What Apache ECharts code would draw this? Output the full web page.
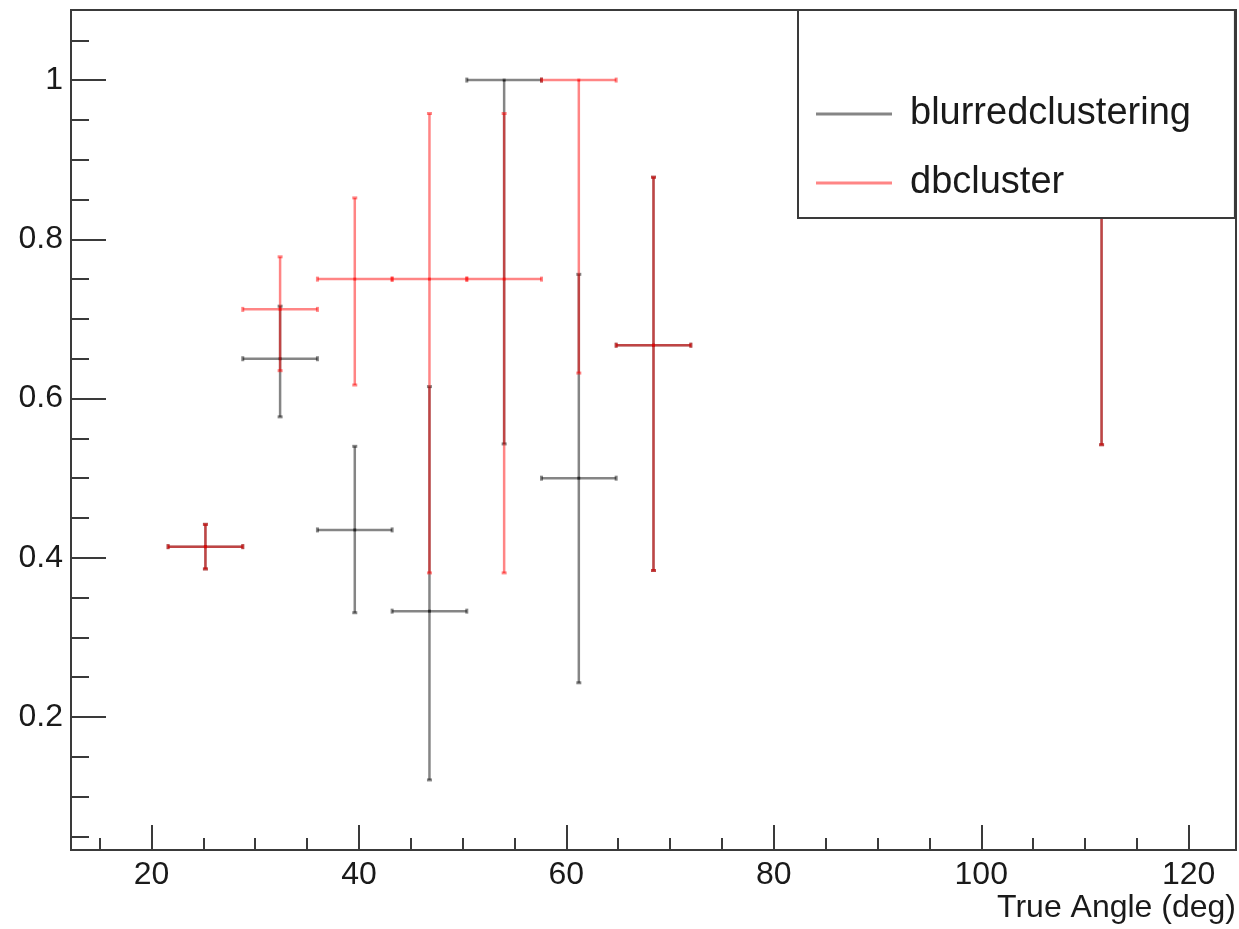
<!DOCTYPE html>
<html>
<head>
<meta charset="utf-8">
<script src="https://cdn.jsdelivr.net/npm/echarts@6/dist/echarts.min.js"></script>
<style>
  html, body { margin: 0; padding: 0; background: #ffffff; }
  #chart { width: 1239px; height: 929px; }
</style>
</head>
<body>
<div id="chart"></div>
<script>
// Angular bins (deg): bin centres and half bin width
const angleBins = [25.2, 32.4, 39.6, 46.8, 54.0, 61.2, 68.4, 111.6];
const binHalfWidth = 3.6;

// blurredclustering: efficiency with asymmetric interval (lower / upper bound)
const blurredEff  = [0.414, 0.650, 0.435, 0.333, 1.000, 0.500, 0.667, 1.000];
const blurredLow  = [0.386, 0.577, 0.331, 0.121, 0.543, 0.243, 0.384, 0.542];
const blurredHigh = [0.442, 0.716, 0.540, 0.615, 1.000, 0.756, 0.878, 1.000];

// dbcluster: efficiency with asymmetric interval (lower / upper bound)
const dbEff  = [0.414, 0.712, 0.750, 0.750, 0.750, 1.000, 0.667, 1.000];
const dbLow  = [0.386, 0.635, 0.617, 0.381, 0.381, 0.632, 0.384, 0.542];
const dbHigh = [0.442, 0.778, 0.852, 0.958, 0.958, 1.000, 0.878, 1.000];

// Axis ranges and tick values
const xRange = [12.24, 124.56];
const yRange = [0.033, 1.088];
const xMajorTicks = [20, 40, 60, 80, 100, 120];
const xMinorTicks = [15, 25, 30, 35, 45, 50, 55, 65, 70, 75, 85, 90, 95, 105, 110, 115];
const yMajorTicks = [0.2, 0.4, 0.6, 0.8, 1];
const yMinorTicks = [0.05, 0.1, 0.15, 0.25, 0.3, 0.35, 0.45, 0.5, 0.55, 0.65, 0.7, 0.75, 0.85, 0.9, 0.95, 1.05];

const xTitle = 'True Angle (deg)';
const seriesNames = ['blurredclustering', 'dbcluster'];

const FONT = 'Liberation Sans, Arial, Helvetica, sans-serif';
const FRAME = '#3a3a3a';
const TEXT = '#1a1a1a';
const COLORS = ['rgba(0,0,0,0.48)', 'rgba(255,0,0,0.48)'];

function buildRows(eff, low, high) {
  return angleBins.map((a, i) => [a, eff[i], a - binHalfWidth, a + binHalfWidth, low[i], high[i]]);
}

// Draws one point as a cross of error bars with small end caps
function renderErrorBar(params, api) {
  const x = api.value(0), y = api.value(1);
  const c = api.coord([x, y]);
  const l = api.coord([api.value(2), y]);
  const r = api.coord([api.value(3), y]);
  const b = api.coord([x, api.value(4)]);
  const t = api.coord([x, api.value(5)]);
  const color = api.visual('color');
  const seg = (x1, y1, x2, y2, w) => ({
    type: 'line',
    shape: { x1, y1, x2, y2 },
    style: { stroke: color, lineWidth: w }
  });
  const children = [
    seg(l[0], c[1], r[0], c[1], 2.5),
    seg(l[0], c[1] - 2.5, l[0], c[1] + 2.5, 3),
    seg(r[0], c[1] - 2.5, r[0], c[1] + 2.5, 3)
  ];
  if (b[1] - c[1] > 0.5) {
    children.push(seg(c[0], c[1], c[0], b[1], 2.5));
    children.push(seg(c[0] - 2.5, b[1], c[0] + 2.5, b[1], 3));
  }
  if (c[1] - t[1] > 0.5) {
    children.push(seg(c[0], t[1], c[0], c[1], 2.5));
    children.push(seg(c[0] - 2.5, t[1], c[0] + 2.5, t[1], 3));
  }
  children.push({
    type: 'rect',
    shape: { x: c[0] - 1.5, y: c[1] - 1.5, width: 3, height: 3 },
    style: { fill: color }
  });
  return { type: 'group', children };
}

const chart = echarts.init(document.getElementById('chart'), null, { renderer: 'canvas' });

const tickStyle = { color: FRAME, width: 2 };

const option = {
  animation: false,
  backgroundColor: '#ffffff',
  textStyle: { fontFamily: FONT },
  // x-axis title, right-aligned under the axis end
  title: {
    text: xTitle, right: 3, top: 890, padding: 0,
    textStyle: { fontSize: 32, fontFamily: FONT, color: TEXT, fontWeight: 'normal', lineHeight: 36 }
  },
  grid: {
    left: 71, right: 3, top: 10, bottom: 79,
    containLabel: false, outerBoundsMode: 'none',
    show: true, borderColor: FRAME, borderWidth: 2, backgroundColor: 'transparent'
  },
  xAxis: [
    {
      type: 'value', min: xRange[0], max: xRange[1], position: 'bottom',
      axisLine: { show: false }, splitLine: { show: false },
      axisTick: { show: true, inside: true, length: 25, customValues: xMajorTicks, lineStyle: tickStyle },
      axisLabel: { customValues: xMajorTicks, fontSize: 32, fontFamily: FONT, color: TEXT, margin: 9 }
    },
    {
      type: 'value', min: xRange[0], max: xRange[1], position: 'bottom',
      axisLine: { show: false }, splitLine: { show: false }, axisLabel: { show: false },
      axisTick: { show: true, inside: true, length: 12, customValues: xMinorTicks, lineStyle: tickStyle }
    }
  ],
  yAxis: [
    {
      type: 'value', min: yRange[0], max: yRange[1], position: 'left',
      axisLine: { show: false }, splitLine: { show: false },
      axisTick: { show: true, inside: true, length: 35, customValues: yMajorTicks, lineStyle: tickStyle },
      axisLabel: { customValues: yMajorTicks, fontSize: 32, fontFamily: FONT, color: TEXT, margin: 8,
                   formatter: v => String(Math.round(v * 100) / 100) }
    },
    {
      type: 'value', min: yRange[0], max: yRange[1], position: 'left',
      axisLine: { show: false }, splitLine: { show: false }, axisLabel: { show: false },
      axisTick: { show: true, inside: true, length: 18, customValues: yMinorTicks, lineStyle: tickStyle }
    }
  ],
  legend: {
    orient: 'vertical', left: 798, top: 10,
    padding: [84, 44, 15, 18], itemGap: 29,
    itemWidth: 76, itemHeight: 3, icon: 'rect',
    backgroundColor: '#ffffff', borderColor: FRAME, borderWidth: 2, borderRadius: 0,
    textStyle: { fontSize: 38, fontFamily: FONT, color: TEXT, lineHeight: 40, padding: [0, 0, 0, 13] },
    data: seriesNames,
    z: 10
  },
  series: [
    {
      name: seriesNames[0], type: 'custom', renderItem: renderErrorBar,
      xAxisIndex: 0, yAxisIndex: 0,
      itemStyle: { color: COLORS[0] },
      encode: { x: [0, 2, 3], y: [1, 4, 5] },
      data: buildRows(blurredEff, blurredLow, blurredHigh), z: 2
    },
    {
      name: seriesNames[1], type: 'custom', renderItem: renderErrorBar,
      xAxisIndex: 0, yAxisIndex: 0,
      itemStyle: { color: COLORS[1] },
      encode: { x: [0, 2, 3], y: [1, 4, 5] },
      data: buildRows(dbEff, dbLow, dbHigh), z: 3
    }
  ]
};

chart.setOption(option);
</script>
</body>
</html>
